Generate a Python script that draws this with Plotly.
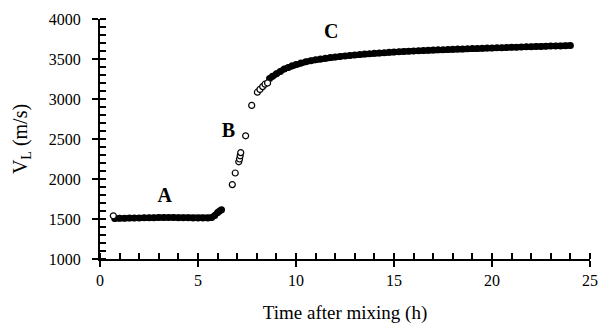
import plotly.graph_objects as go

# Region A (filled dots)
a_x = [0.75, 1.0, 1.25, 1.5, 1.75, 2.0, 2.25, 2.5, 2.75, 3.0, 3.25, 3.5, 3.75, 4.0, 4.25,
       4.5, 4.75, 5.0, 5.25, 5.5, 5.7, 5.85, 6.0, 6.1, 6.2]
a_y = [1505, 1508, 1510, 1512, 1513, 1514, 1515, 1516, 1517, 1518, 1519, 1519, 1518, 1517, 1516,
       1515, 1514, 1513, 1513, 1513, 1518, 1545, 1580, 1600, 1615]

# Open circles (first reading and transition B)
b_x = [0.68, 6.75, 6.9, 7.08, 7.12, 7.15, 7.18, 7.43, 7.74, 8.03, 8.16, 8.30, 8.42, 8.55]
b_y = [1540, 1930, 2075, 2215, 2250, 2290, 2330, 2540, 2920, 3085, 3120, 3155, 3185, 3200]

# Region C (filled dots)
c_x = [8.65, 8.8, 9.0, 9.2, 9.4, 9.6, 9.8, 10.0, 10.25, 10.5, 10.75, 11.0, 11.25, 11.5, 11.75,
       12.0, 12.25, 12.5, 12.75, 13.0, 13.25, 13.5, 13.75, 14.0, 14.25, 14.5, 14.75, 15.0, 15.25,
       15.5, 15.75, 16.0, 16.25, 16.5, 16.75, 17.0, 17.25, 17.5, 17.75, 18.0, 18.25, 18.5, 18.75,
       19.0, 19.25, 19.5, 19.75, 20.0, 20.25, 20.5, 20.75, 21.0, 21.25, 21.5, 21.75, 22.0, 22.25,
       22.5, 22.75, 23.0, 23.25, 23.5, 23.75, 24.0]
c_y = [3255, 3285, 3315, 3345, 3375, 3395, 3415, 3432, 3450, 3465, 3478, 3490, 3500, 3510, 3518,
       3525, 3532, 3539, 3545, 3551, 3556, 3561, 3566, 3571, 3575, 3579, 3583, 3587, 3591,
       3594, 3597, 3600, 3603, 3606, 3609, 3612, 3615, 3617, 3619, 3622, 3624, 3626, 3628,
       3630, 3632, 3634, 3636, 3638, 3640, 3642, 3644, 3646, 3648, 3650, 3652, 3654, 3656,
       3657, 3659, 3661, 3663, 3664, 3666, 3668]

labels = ["A", "B", "C"]
label_x = [3.3, 6.55, 11.8]
label_y = [1770, 2590, 3820]

font = "Liberation Serif"

fig = go.Figure()
fig.add_trace(go.Scatter(x=a_x, y=a_y, mode="lines+markers",
                         line=dict(color="black", width=6),
                         marker=dict(size=7, color="black"), showlegend=False))
fig.add_trace(go.Scatter(x=c_x, y=c_y, mode="lines+markers",
                         line=dict(color="black", width=6),
                         marker=dict(size=7, color="black"), showlegend=False))
fig.add_trace(go.Scatter(x=b_x, y=b_y, mode="markers",
                         marker=dict(size=6, color="white", symbol="circle",
                                     line=dict(color="black", width=1.2)),
                         showlegend=False))
fig.add_trace(go.Scatter(x=label_x, y=label_y, mode="text", text=labels,
                         textfont=dict(family=font, size=20, color="black", weight="bold"),
                         showlegend=False))

tickfont = dict(family=font, size=16, color="black")

fig.update_layout(
    width=601, height=324,
    margin=dict(l=100, r=11, t=19, b=65),
    paper_bgcolor="white", plot_bgcolor="white",
    xaxis=dict(range=[0, 25], dtick=5, automargin=False,
               ticks="outside", ticklen=6, tickwidth=2, tickcolor="black",
               showgrid=False, zeroline=False, showline=True, linecolor="black", linewidth=2,
               tickfont=tickfont,
               minor=dict(dtick=1, ticks="inside", ticklen=6, tickwidth=2, tickcolor="black"),
               title=dict(text="Time after mixing (h)",
                          font=dict(family=font, size=19, color="black"), standoff=18)),
    yaxis=dict(range=[1000, 4000], dtick=500,
               ticks="outside", ticklen=6, tickwidth=2, tickcolor="black",
               showgrid=False, zeroline=False, showline=True, linecolor="black", linewidth=2,
               tickfont=tickfont, ticklabelstandoff=8,
               minor=dict(dtick=100, ticks="inside", ticklen=6, tickwidth=2, tickcolor="black"),
               title=dict(text="V<sub>L</sub> (m/s)",
                          font=dict(family=font, size=20, color="black"), standoff=16)),
)

fig.write_html("out.html")
